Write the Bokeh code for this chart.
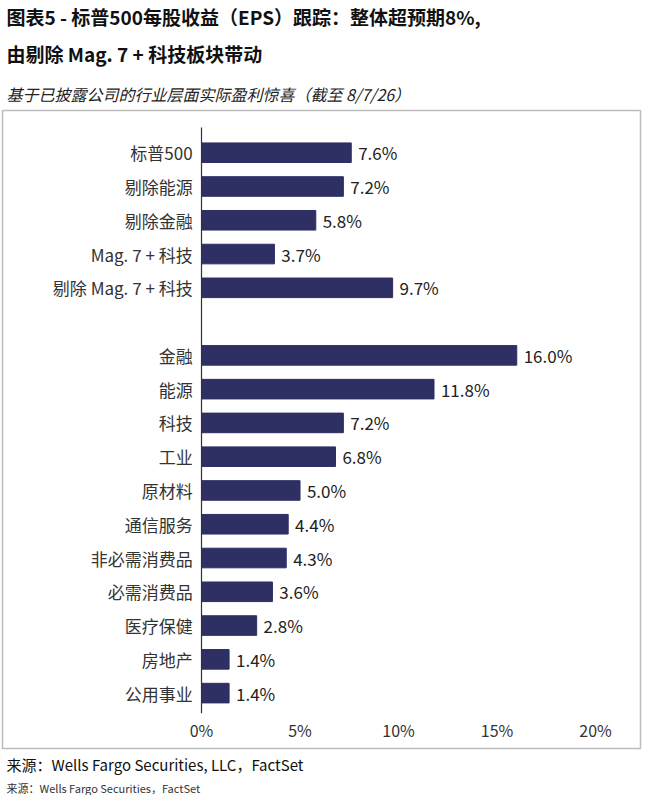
from bokeh.plotting import figure
from bokeh.models import ColumnDataSource, Title
from bokeh.core.properties import value
from bokeh.embed import file_html
from bokeh.resources import INLINE

categories = ["标普500", "剔除能源", "剔除金融", "Mag. 7 + 科技", "剔除 Mag. 7 + 科技",
              "金融", "能源", "科技", "工业", "原材料", "通信服务", "非必需消费品",
              "必需消费品", "医疗保健", "房地产", "公用事业"]
values = [7.6, 7.2, 5.8, 3.7, 9.7, 16.0, 11.8, 7.2, 6.8, 5.0, 4.4, 4.3, 3.6, 2.8, 1.4, 1.4]
positions = [0, 1, 2, 3, 4, 6, 7, 8, 9, 10, 11, 12, 13, 14, 15, 16]
x_ticks = [0, 5, 10, 15, 20]
x_tick_labels = ["0%", "5%", "10%", "15%", "20%"]

FONT = "Noto Sans CJK SC"
src = ColumnDataSource(dict(y=positions, v=values, cat=categories,
                            lab=[f"{v:.1f}%" for v in values],
                            lx=[v + 0.35 for v in values]))

p = figure(width=643, height=795, x_range=(-10.1, 22.28), y_range=(17.64, -1.25),
           output_backend="svg", toolbar_location=None,
           min_border_left=2, min_border_right=3, min_border_top=10, min_border_bottom=10)
p.axis.visible = False
p.grid.visible = False
p.outline_line_color = "#bdbdbd"
p.outline_line_width = 1.5

p.hbar(y="y", right="v", left=0, height=0.58, source=src, color="#2e2f63")
p.text(x=-0.45, y="y", text="cat", source=src, text_align="right", text_baseline="middle",
       text_font=value(FONT), text_font_size="17px", text_color="#333333")
p.text(x="lx", y="y", text="lab", source=src, text_align="left", text_baseline="middle",
       text_font=value(FONT), text_font_size="17px", text_color="#222222")
p.text(x=x_ticks, y=[17.1] * 5, text=x_tick_labels, text_align="center", text_baseline="middle",
       text_font=value(FONT), text_font_size="16px", text_color="#333333")
p.segment(x0=[0], y0=[-0.75], x1=[0], y1=[16.6], line_color="#333333", line_width=1.2)

def title(txt, place, size, style="normal", color="#111111", standoff=0):
    p.add_layout(Title(text=txt, text_font=FONT, text_font_size=size, text_font_style=style,
                       text_color=color, align="left", offset=4, standoff=standoff), place)

# above: first added is nearest to the plot frame
title("基于已披露公司的行业层面实际盈利惊喜（截至 8/7/26）", "above", "16px", "italic", "#222222", 10)
title("由剔除 Mag. 7 + 科技板块带动", "above", "19px", "bold", "#111111", 16)
title("图表5 - 标普500每股收益（EPS）跟踪：整体超预期8%,", "above", "19px", "bold")
title("来源：Wells Fargo Securities, LLC，FactSet", "below", "15px", "normal", "#111111", 6)
title("来源：Wells Fargo Securities，FactSet", "below", "11px", "normal", "#333333")

open("out.html", "w").write(file_html(p, INLINE))
